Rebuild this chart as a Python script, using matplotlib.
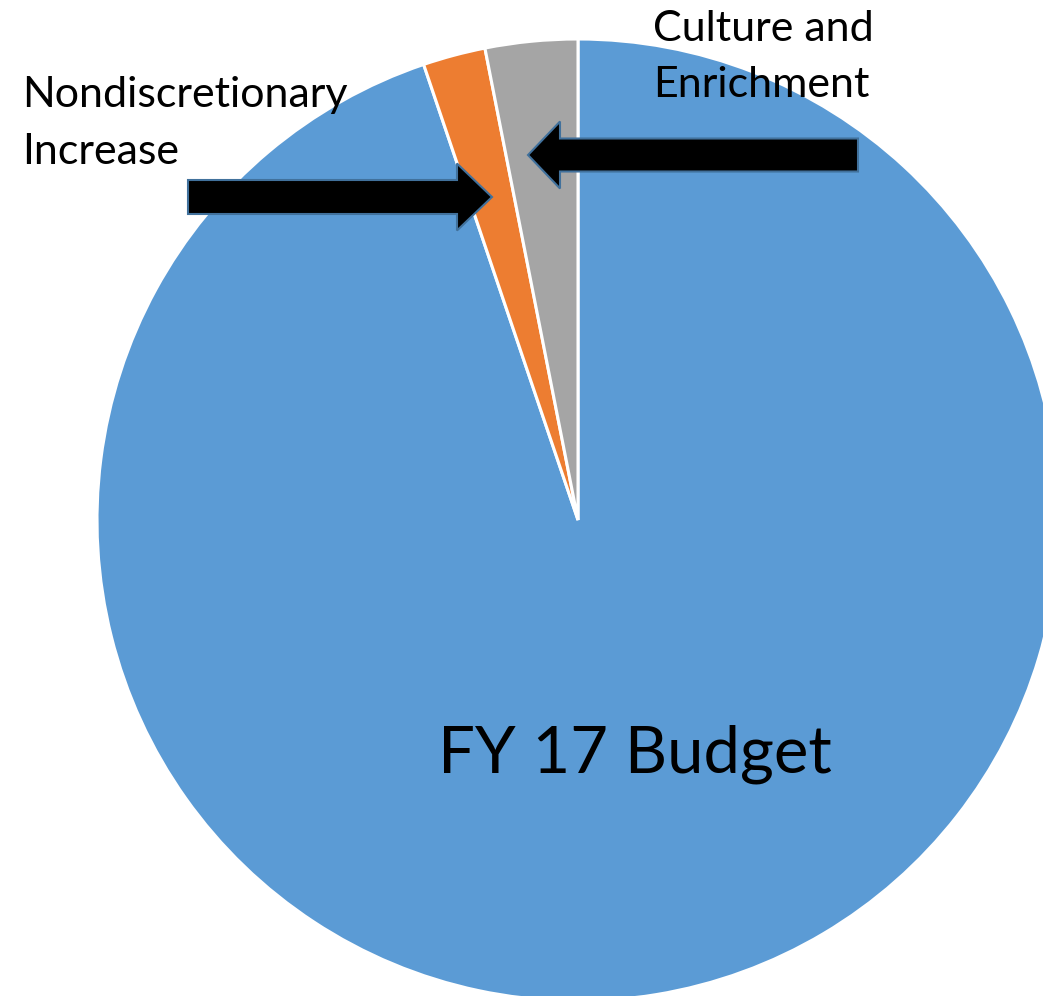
import matplotlib
matplotlib.use("Agg")
import matplotlib.pyplot as plt
from matplotlib.patches import FancyArrow

# Slice data (share of the budget)
categories = ["FY 17 Budget", "Nondiscretionary Increase", "Culture and Enrichment"]
shares = [94.8, 2.1, 3.1]
colors = ["#5B9BD5", "#ED7D31", "#A5A5A5"]

plt.rcParams['font.family'] = ['Lato', 'DejaVu Sans']

W, H = 1043, 996
fig = plt.figure(figsize=(W / 100, H / 100), dpi=100)
ax = fig.add_axes([0, 0, 1, 1])

# 1) Pie (center and radius in pixel-like data coords, y upward)
ax.pie(shares, colors=colors, startangle=90, counterclock=False,
       center=(578, H - 520), radius=481,
       wedgeprops=dict(edgecolor="white", linewidth=2.2))

# 2) Labels
ax.text(22, H - 107, "Nondiscretionary", fontsize=31, ha="left", va="baseline")
ax.text(22, H - 164, "Increase", fontsize=31, ha="left", va="baseline")
ax.text(653, H - 41, "Culture and", fontsize=31, ha="left", va="baseline")
ax.text(653, H - 97, "Enrichment", fontsize=31, ha="left", va="baseline")
ax.text(438, H - 772, categories[0], fontsize=47, ha="left", va="baseline")

# 3) Block arrows
arrow_style = dict(length_includes_head=True, facecolor="black",
                   edgecolor="#41719C", linewidth=1.5)
ax.add_patch(FancyArrow(188, H - 197, 304, 0, width=34, head_width=67,
                        head_length=35, **arrow_style))
ax.add_patch(FancyArrow(858, H - 155, -330, 0, width=33, head_width=67,
                        head_length=32, **arrow_style))

ax.set_xlim(0, W)
ax.set_ylim(0, H)
ax.set_aspect("equal")
ax.axis("off")

fig.savefig("out.png", dpi=100)
